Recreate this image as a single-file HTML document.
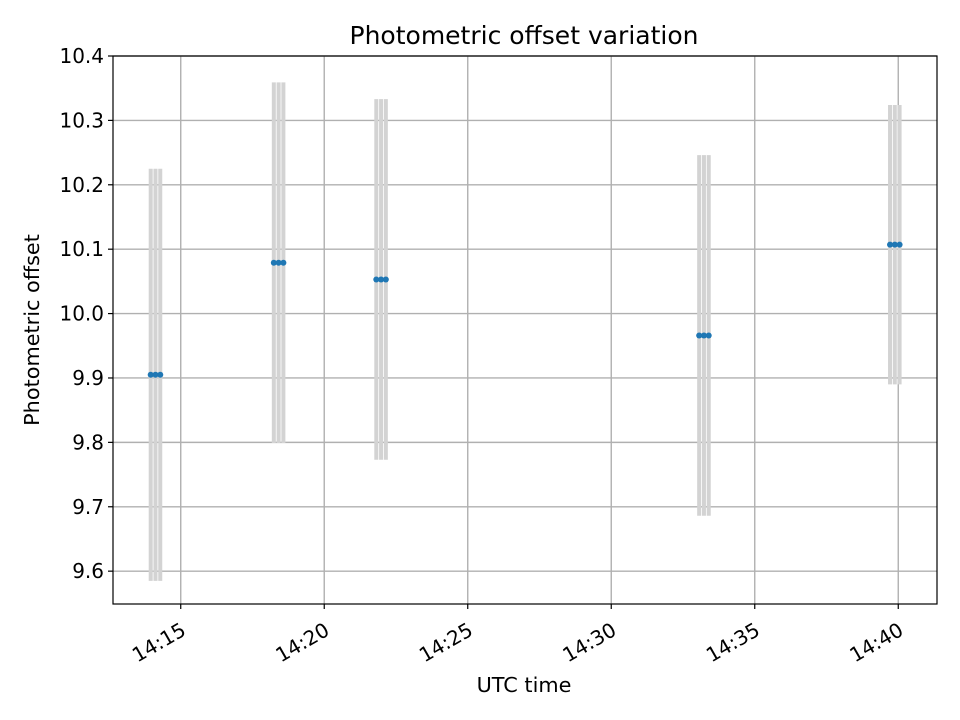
<!DOCTYPE html>
<html><head><meta charset="utf-8"><style>body{margin:0;background:#fff}svg{display:block;font-family:"DejaVu Sans","Liberation Sans",sans-serif}</style></head>
<body>
<svg id="c" width="960" height="720"></svg>
<script>
const groupTimes=[14*60+14.12,14*60+18.41,14*60+21.98,14*60+33.23,14*60+39.88];
const groupValues=[9.905,10.079,10.053,9.966,10.107];
const groupErrors=[0.32,0.28,0.28,0.28,0.217];
const pointOffsetsSec=[-10,0,10];
const xTicks=[14*60+15,14*60+20,14*60+25,14*60+30,14*60+35,14*60+40];
const xTickLabels=["14:15","14:20","14:25","14:30","14:35","14:40"];
const yTicks=[9.6,9.7,9.8,9.9,10.0,10.1,10.2,10.3,10.4];
const yTickLabels=["9.6","9.7","9.8","9.9","10.0","10.1","10.2","10.3","10.4"];
const L=113,R=937,T=56,B=604;
const xMin=14*60+12.64,xMax=14*60+41.35,yMin=9.549,yMax=10.4;
const X=v=>L+(v-xMin)/(xMax-xMin)*(R-L);
const Y=v=>B-(v-yMin)/(yMax-yMin)*(B-T);
const s=document.getElementById('c');const NS='http://www.w3.org/2000/svg';
function mk(t,a,txt){const e=document.createElementNS(NS,t);for(const k in a)e.setAttribute(k,a[k]);if(txt!=null)e.textContent=txt;s.appendChild(e);return e;}
xTicks.forEach((t,i)=>{const x=X(t);
const g=mk('line',{x1:x,x2:x,y1:T,y2:B,stroke:'#b0b0b0','stroke-width':1.4});

const k=mk('line',{x1:x,x2:x,y1:B,y2:B+5,stroke:'#000','stroke-width':1.2});

const tx=mk('text',{x:0,y:15,'font-size':20,'text-anchor':'end',transform:`translate(${x-1} ${B+17}) rotate(-30)`},xTickLabels[i]);
});
yTicks.forEach((v,i)=>{const y=Y(v);
const g=mk('line',{x1:L,x2:R,y1:y,y2:y,stroke:'#b0b0b0','stroke-width':1.4});

const k=mk('line',{x1:L-5,x2:L,y1:y,y2:y,stroke:'#000','stroke-width':1.2});

const tx=mk('text',{x:L-9,y:y+7,'font-size':20,'text-anchor':'end'},yTickLabels[i]);
});
groupTimes.forEach((t,i)=>{pointOffsetsSec.forEach(o=>{const x=X(t+o/60);
const e=mk('line',{x1:x,x2:x,y1:Y(groupValues[i]+groupErrors[i]),y2:Y(groupValues[i]-groupErrors[i]),stroke:'#d3d3d3','stroke-width':4});
});});
groupTimes.forEach((t,i)=>{pointOffsetsSec.forEach(o=>{const x=X(t+o/60);
const p=mk('circle',{cx:x,cy:Y(groupValues[i]),r:3,fill:'#1f77b4'});
});});
const f=mk('rect',{x:L,y:T,width:R-L,height:B-T,fill:'none',stroke:'#000','stroke-width':1.2});

const ti=mk('text',{x:(L+R)/2-1,y:44,'font-size':25,'text-anchor':'middle'},'Photometric offset variation');

const xl=mk('text',{x:(L+R)/2-1,y:692,'font-size':20.8,'text-anchor':'middle'},'UTC time');

const yl=mk('text',{x:39,y:330,'font-size':20.8,'text-anchor':'middle',transform:'rotate(-90 39 330)'},'Photometric offset');

</script>
</body></html>
